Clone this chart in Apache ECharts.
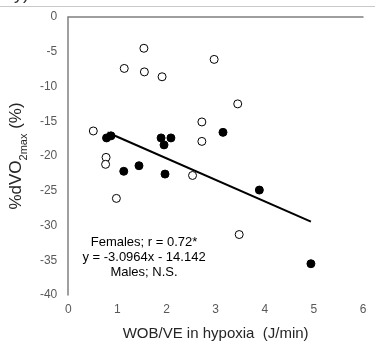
<!DOCTYPE html>
<html><head><meta charset="utf-8">
<script src="https://cdn.jsdelivr.net/npm/echarts@6/dist/echarts.min.js"></script>
<style>html,body{margin:0;padding:0;background:#fff}#c{width:375px;height:352px}</style>
</head><body><div id="c"></div>
<script>
const openX = [1.54, 1.14, 1.55, 1.91, 2.97, 3.45, 2.72, 0.51, 2.72, 0.77, 0.76, 2.53, 0.98, 3.48];
const openY = [-4.5, -7.4, -7.9, -8.6, -6.1, -12.5, -15.1, -16.4, -17.9, -20.2, -21.2, -22.8, -26.1, -31.3];
const filledX = [0.78, 0.87, 1.89, 2.09, 1.95, 3.15, 1.13, 1.44, 1.97, 3.89, 4.94];
const filledY = [-17.4, -17.1, -17.4, -17.4, -18.4, -16.6, -22.2, -21.4, -22.6, -24.9, -35.5];
const fitX = [0.8, 4.94];
const fitY = [-16.62, -29.44];
const xTicks = [0, 1, 2, 3, 4, 5, 6];
const yTicks = [0, -5, -10, -15, -20, -25, -30, -35, -40];
const notes = ['Females; r = 0.72*', 'y = -3.0964x - 14.142', 'Males; N.S.'];

const chart = echarts.init(document.getElementById('c'));
const FONT = 'Liberation Sans, Arial, sans-serif';
chart.setOption({
  animation: false,
  grid: {left: 64, right: 12, top: 17, bottom: 57},
  xAxis: {
    type: 'value', min: xTicks[0], max: xTicks[xTicks.length - 1], interval: 1,
    axisLine: {lineStyle: {color: '#7f7f7f', width: 1.5}},
    axisTick: {show: false}, splitLine: {show: false},
    axisLabel: {color: '#595959', fontSize: 12, fontFamily: FONT, margin: 9},
    name: 'WOB/VE in hypoxia  (J/min)', nameLocation: 'middle', nameGap: 31,
    nameTextStyle: {color: '#262626', fontSize: 15, fontFamily: FONT}
  },
  yAxis: {
    type: 'value', min: yTicks[yTicks.length - 1], max: yTicks[0], interval: 5,
    axisLine: {show: true, lineStyle: {color: '#7f7f7f', width: 1.5}},
    axisTick: {show: false}, splitLine: {show: false},
    axisLabel: {color: '#595959', fontSize: 12, fontFamily: FONT, margin: 11},
    name: '{a|%dVO}{s|2max}{a| (%)}', nameLocation: 'middle', nameGap: 33, nameRotate: 90,
    nameTextStyle: {
      color: '#262626', fontFamily: FONT,
      rich: {
        a: {fontSize: 17, fontFamily: FONT, color: '#262626', lineHeight: 20, verticalAlign: 'bottom'},
        s: {fontSize: 11, fontFamily: FONT, color: '#262626', lineHeight: 20, verticalAlign: 'bottom', padding: [0, 0, -4, 0]}
      }
    }
  },
  series: [
    {type: 'line', data: fitX.map((x, i) => [x, fitY[i]]), symbol: 'none',
     lineStyle: {color: '#000', width: 2}, z: 1},
    {type: 'scatter', data: openX.map((x, i) => [x, openY[i]]), symbol: 'circle', symbolSize: 8,
     itemStyle: {color: '#fff', borderColor: '#000', borderWidth: 1, opacity: 1}, z: 3},
    {type: 'scatter', data: filledX.map((x, i) => [x, filledY[i]]), symbol: 'circle', symbolSize: 8,
     itemStyle: {color: '#000', borderColor: '#000', borderWidth: 1, opacity: 1}, z: 3}
  ],
  graphic: [
    {type: 'line', shape: {x1: 0, y1: 6.5, x2: 375, y2: 6.5}, style: {stroke: '#c8c8c8', lineWidth: 1}},
    {type: 'text', left: 14, top: -15, style: {text: 'y).', font: '18px ' + FONT, fill: '#333'}},
    {type: 'text', x: 144, y: 242, style: {text: notes[0], font: '13px ' + FONT, fill: '#000', align: 'center', verticalAlign: 'middle'}},
    {type: 'text', x: 144, y: 257, style: {text: notes[1], font: '13px ' + FONT, fill: '#000', align: 'center', verticalAlign: 'middle'}},
    {type: 'text', x: 144, y: 272, style: {text: notes[2], font: '13px ' + FONT, fill: '#000', align: 'center', verticalAlign: 'middle'}}
  ]
});
</script></body></html>
